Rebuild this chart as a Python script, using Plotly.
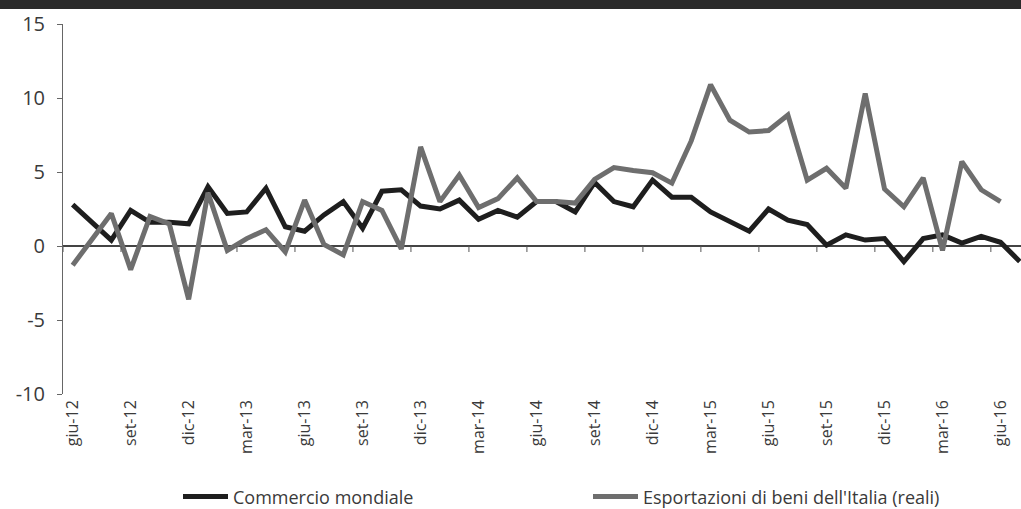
import plotly.graph_objects as go

months = ["gen", "feb", "mar", "apr", "mag", "giu", "lug", "ago", "set", "ott", "nov", "dic"]
# Monthly categories from giu-12 to lug-16
categories = []
for yr in range(12, 17):
    for mi, m in enumerate(months):
        if (yr == 12 and mi < 5) or (yr == 16 and mi > 6):
            continue
        categories.append(f"{m}-{yr}")

commercio_mondiale = [2.8, 1.6, 0.4, 2.4, 1.6, 1.6, 1.5, 4.0, 2.2, 2.3,
                      3.9, 1.3, 1.0, 2.1, 3.0, 1.2, 3.7, 3.8, 2.7, 2.5,
                      3.1, 1.8, 2.4, 1.95, 3.0, 3.0, 2.3, 4.3, 3.0, 2.65,
                      4.45, 3.3, 3.3, 2.3, 1.65, 1.0, 2.5, 1.75, 1.45, 0.05,
                      0.75, 0.4, 0.5, -1.05, 0.5, 0.75, 0.2, 0.65, 0.25, -1.05]

esportazioni_italia = [-1.3, 0.5, 2.2, -1.6, 2.0, 1.5, -3.6, 3.6, -0.3, 0.5,
                       1.1, -0.4, 3.1, 0.1, -0.6, 3.0, 2.4, -0.2, 6.7, 3.0,
                       4.8, 2.6, 3.2, 4.6, 3.0, 3.0, 2.9, 4.5, 5.3, 5.1,
                       4.95, 4.25, 7.1, 10.9, 8.5, 7.7, 7.8, 8.85, 4.45, 5.25,
                       3.9, 10.3, 3.85, 2.65, 4.6, -0.3, 5.7, 3.8, 3.0]

series_names = ["Commercio mondiale", "Esportazioni di beni dell'Italia (reali)"]
y_ticks = [-10, -5, 0, 5, 10, 15]
label_step = 3

idx = list(range(len(categories)))
tick_idx = idx[::label_step]
tick_text = [categories[i] for i in tick_idx]

FONT = "Open Sans"
TXT = "#3a3a3a"

fig = go.Figure()
fig.add_trace(go.Scatter(
    x=idx, y=commercio_mondiale, mode="lines", name=series_names[0],
    line=dict(color="#1e1e1e", width=5), cliponaxis=False))
fig.add_trace(go.Scatter(
    x=idx[:len(esportazioni_italia)], y=esportazioni_italia, mode="lines",
    name=series_names[1], line=dict(color="#6e6e6e", width=5), cliponaxis=False))

# small tick marks crossing the zero line (between categories, every 3 months)
for k in range(0, len(categories) + 1, label_step):
    fig.add_shape(type="line", xref="x", yref="y", x0=k - 0.5, x1=k - 0.5,
                  ysizemode="pixel", yanchor=0, y0=0, y1=-6,
                  line=dict(color="#555555", width=1))

# dark band at the top of the image
fig.add_shape(type="rect", xref="paper", yref="paper", x0=-0.1, x1=1.0,
              y0=1.0 + 15 / 370, y1=1.0 + 30 / 370,
              fillcolor="#2b2b2b", line=dict(width=0), layer="below")

fig.update_layout(
    width=1021, height=509,
    margin=dict(l=63, r=0, t=24, b=115, autoexpand=False),
    paper_bgcolor="white", plot_bgcolor="white",
    font=dict(family=FONT, color=TXT),
    showlegend=True,
    legend=dict(orientation="h", x=(178 - 63) / 958, xanchor="left",
                yref="container", y=0.024, yanchor="middle",
                font=dict(size=18, family=FONT, color=TXT),
                bgcolor="rgba(0,0,0,0)", itemwidth=45, entrywidth=350,
                traceorder="normal"),
    xaxis=dict(range=[-0.5, 49.06], tickmode="array", tickvals=tick_idx,
               ticktext=tick_text, tickangle=-90, showgrid=False,
               zeroline=False, showline=False, ticks="", automargin=False,
               ticklabelstandoff=2,
               tickfont=dict(size=16, family=FONT, color=TXT)),
    yaxis=dict(range=[-10, 15], tickmode="array", tickvals=y_ticks,
               ticktext=[str(v) for v in y_ticks], automargin=False,
               showgrid=False, zeroline=True, zerolinecolor="#444444",
               zerolinewidth=1.5, showline=True, linecolor="#666666",
               linewidth=1, ticks="outside", ticklen=5, tickcolor="#666666",
               ticklabelstandoff=8,
               tickfont=dict(size=20, family=FONT, color=TXT)),
)

fig.write_html("out.html", config={"displayModeBar": False},
               post_script="document.body.style.margin='0';document.body.style.overflow='hidden';")
